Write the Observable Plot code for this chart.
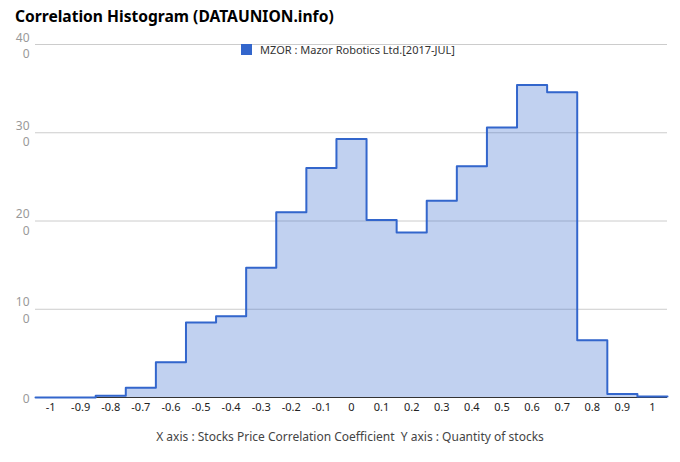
<!DOCTYPE html>
<html>
<head>
<meta charset="utf-8">
<script src="https://cdn.jsdelivr.net/npm/d3@7"></script>
<script src="https://cdn.jsdelivr.net/npm/@observablehq/plot@0.6"></script>
<style>
  html, body { margin: 0; padding: 0; background: #fff; }
  #wrap { position: relative; width: 680px; height: 462px; font-family: "Noto Sans", sans-serif; }
  #title { position: absolute; left: 15px; top: 5px; font-size: 15.6px; font-weight: bold; color: #000; white-space: nowrap; }
  #legend { position: absolute; left: 241px; top: 42px; font-size: 11px; color: #333; white-space: nowrap; display: flex; align-items: center; }
  #legend .sw { width: 11px; height: 11px; background: #3366cc; margin-right: 8px; display: inline-block; }
  #caption { position: absolute; left: 0; width: 700px; top: 428px; text-align: center; font-size: 12px; color: #444; white-space: nowrap; }
  #chart { position: absolute; left: 0; top: 0; }
</style>
</head>
<body>
<div id="wrap">
  <div id="chart"></div>
  <div id="title">Correlation Histogram (DATAUNION.info)</div>
  <div id="legend"><span class="sw"></span><span>MZOR : Mazor Robotics Ltd.[2017-JUL]</span></div>
  <div id="caption">X axis : Stocks Price Correlation Coefficient&nbsp;&nbsp;Y axis : Quantity of stocks</div>
</div>
<script>
const binCenters = [-1, -0.9, -0.8, -0.7, -0.6, -0.5, -0.4, -0.3, -0.2, -0.1, 0, 0.1, 0.2, 0.3, 0.4, 0.5, 0.6, 0.7, 0.8, 0.9, 1];
const counts = [0, 0, 2, 11, 40, 85, 92, 147, 210, 260, 293, 201, 187, 223, 262, 306, 354, 346, 65, 4, 1];
const binWidth = 0.1;
const xTicks = [-1, -0.9, -0.8, -0.7, -0.6, -0.5, -0.4, -0.3, -0.2, -0.1, 0, 0.1, 0.2, 0.3, 0.4, 0.5, 0.6, 0.7, 0.8, 0.9, 1];
const yTicks = [0, 100, 200, 300, 400];

const half = binWidth / 2;
const steps = binCenters.map((c, i) => ({x: c - half, y: counts[i]}));
steps.push({x: binCenters[binCenters.length - 1] + half, y: counts[counts.length - 1]});

const wrapLabel = d => {
  const s = String(d);
  return s.length > 2 ? s.slice(0, 2) + "\n" + s.slice(2) : s;
};

const chart = Plot.plot({
  width: 680,
  height: 462,
  marginTop: 44,
  marginBottom: 65,
  marginLeft: 35,
  marginRight: 13,
  style: {fontFamily: "Noto Sans, sans-serif", fontSize: "11px", background: "#fff"},
  x: {domain: [binCenters[0] - half, binCenters[binCenters.length - 1] + half]},
  y: {domain: [0, 400]},
  marks: [
    Plot.gridY(yTicks, {stroke: "#cccccc", strokeOpacity: 1}),
    Plot.areaY(steps, {x: "x", y: "y", curve: "step-after", fill: "#3366cc", fillOpacity: 0.3}),
    Plot.ruleY([0], {stroke: "#333333"}),
    Plot.lineY(steps, {x: "x", y: "y", curve: "step-after", stroke: "#3366cc", strokeWidth: 2, strokeLinejoin: "round"}),
    Plot.axisX(xTicks, {tickSize: 0, tickPadding: 6, label: null, fill: "#222", tickFormat: d => String(Math.round(d * 10) / 10)}),
    Plot.axisY(yTicks, {tickSize: 0, tickPadding: 6, label: null, fill: "#999", fontSize: 12, lineHeight: 1.38, tickFormat: wrapLabel})
  ]
});
document.getElementById("chart").appendChild(chart);
</script>
</body>
</html>
